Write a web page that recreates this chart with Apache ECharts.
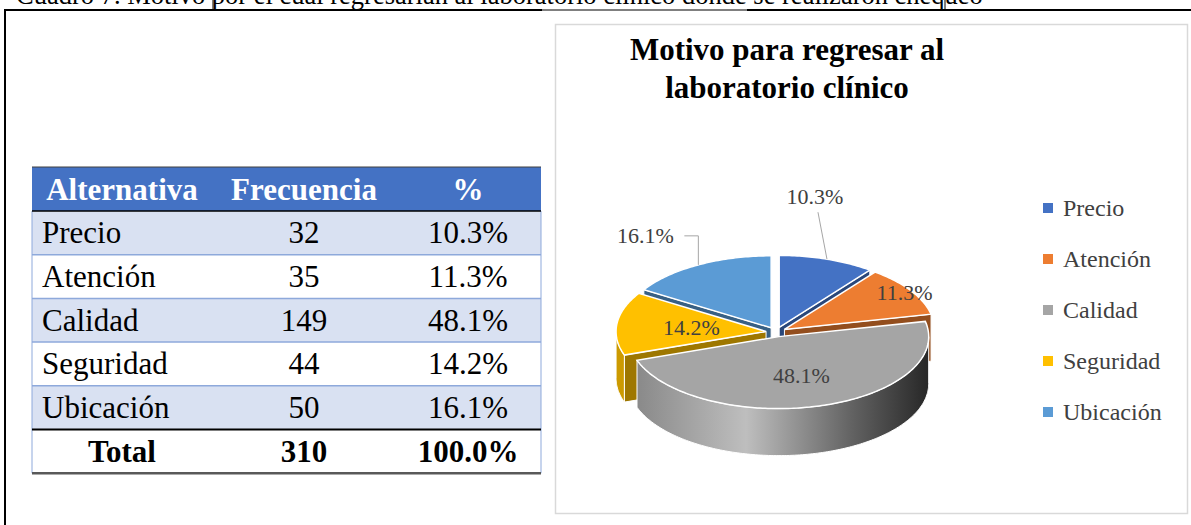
<!DOCTYPE html>
<html>
<head>
<meta charset="utf-8">
<script src="https://cdn.jsdelivr.net/npm/echarts@6/dist/echarts.min.js"></script>
<style>
  html, body { margin: 0; padding: 0; background: #fff; }
  #main { width: 1191px; height: 525px; }
</style>
</head>
<body>
<div id="main"></div>
<script>
// datos del cuadro
var categories = ['Precio', 'Atención', 'Calidad', 'Seguridad', 'Ubicación'];
var frequencies = [32, 35, 149, 44, 50];
var percentLabels = ['10.3%', '11.3%', '48.1%', '14.2%', '16.1%'];
var headers = ['Alternativa', 'Frecuencia', '%'];
var totalRow = ['Total', '310', '100.0%'];
var colors = ['#4472C4', '#ED7D31', '#A5A5A5', '#FFC000', '#5B9BD5'];

var serif = '"Liberation Serif", "Times New Roman", serif';
var chart = echarts.init(document.getElementById('main'), null, { renderer: 'svg' });

// geometria del pastel 3D
var cx = 776, cy = 332, rx = 150, ry = 72, thick = 47, explode = 10;
var D = Math.PI / 180;
var total = frequencies.reduce(function (a, b) { return a + b; }, 0);
var starts = [];
var acc = 0;
frequencies.forEach(function (v) { starts.push(acc / total * 360); acc += v; });

// orden de dibujo: de atras hacia adelante
var depthRank = [];
(function () {
  var idx = frequencies.map(function (v, i) { return i; });
  var midCos = frequencies.map(function (v, i) {
    return Math.cos((starts[i] + v / total * 180) * D);
  });
  idx.sort(function (a, b) { return midCos[b] - midCos[a]; });
  idx.forEach(function (k, r) { depthRank[k] = r; });
})();

// posicion de etiquetas (estilo)
var labelPlace = [
  { leader: [[0, 0], [-9, -47]], text: [-12, -63] },
  { f: 0.95 },
  { f: 0.56 },
  { f: 0.5 },
  { leader: [[0, 0], [0, -29], [-14, -29]], text: [-53, -29] }
];

function shade(hex, k) {
  var n = parseInt(hex.slice(1), 16);
  var c = [(n >> 16) & 255, (n >> 8) & 255, n & 255].map(function (x) {
    return Math.max(0, Math.min(255, Math.round(x * k)));
  });
  return 'rgb(' + c.join(',') + ')';
}

function wallFill(col) {
  return new echarts.graphic.LinearGradient(cx - rx, 0, cx + rx, 0, [
    { offset: 0, color: shade(col, 0.8) },
    { offset: 0.4, color: shade(col, 1.15) },
    { offset: 0.75, color: shade(col, 0.6) },
    { offset: 1, color: shade(col, 0.25) }
  ], true);
}

function renderSlice(params, api) {
  var i = params.dataIndex;
  var v = api.value(0);
  var a0 = starts[i], a1 = a0 + v / total * 360;
  var mid = (a0 + a1) / 2 * D;
  var ox = explode * Math.sin(mid), oy = -explode * ry / rx * Math.cos(mid);
  function p(deg, f, dz) {
    return [cx + ox + rx * f * Math.sin(deg * D), cy + oy - ry * f * Math.cos(deg * D) + (dz || 0)];
  }
  function arc(b0, b1, dz) {
    var pts = [], n = Math.max(2, Math.ceil(b1 - b0));
    for (var k = 0; k <= n; k++) pts.push(p(b0 + (b1 - b0) * k / n, 1, dz));
    return pts;
  }
  var z = depthRank[i] * 10;
  var col = colors[i];
  var kids = [];
  // caras de corte visibles
  [[a0, Math.sin(a0 * D) < -1e-6], [a1, Math.sin(a1 * D) > 1e-6]].forEach(function (e) {
    if (!e[1]) return;
    kids.push({
      type: 'polygon', z2: z + 1,
      shape: { points: [p(e[0], 0), p(e[0], 1), p(e[0], 1, thick), p(e[0], 0, thick)] },
      style: { fill: shade(col, 0.62), stroke: '#fff', lineWidth: 1 }
    });
  });
  // pared exterior
  var w0 = Math.max(a0, 90), w1 = Math.min(a1, 270);
  if (w1 > w0) {
    kids.push({
      type: 'polygon', z2: z + 2,
      shape: { points: arc(w0, w1, 0).concat(arc(w0, w1, thick).reverse()) },
      style: { fill: wallFill(col), stroke: '#fff', lineWidth: 1 }
    });
  }
  // cara superior
  kids.push({
    type: 'polygon', z2: z + 3,
    shape: { points: [p(a0, 0)].concat(arc(a0, a1, 0)) },
    style: { fill: col, stroke: '#fff', lineWidth: 1.5 }
  });
  // etiqueta
  var lp = labelPlace[i], tx, ty;
  if (lp.leader) {
    var edge = p((a0 + a1) / 2, 1);
    kids.push({
      type: 'polyline', z2: 200,
      shape: { points: lp.leader.map(function (d) { return [edge[0] + d[0], edge[1] + d[1]]; }) },
      style: { stroke: '#A6A6A6', lineWidth: 1, fill: null }
    });
    tx = edge[0] + lp.text[0]; ty = edge[1] + lp.text[1];
  } else {
    var q = p((a0 + a1) / 2, lp.f);
    tx = q[0]; ty = q[1];
  }
  kids.push({
    type: 'text', z2: 201,
    style: {
      text: percentLabels[i], x: tx, y: ty, font: '22px ' + serif, fill: '#404040',
      align: 'center', verticalAlign: 'middle', textAlign: 'center', textVerticalAlign: 'middle'
    }
  });
  return { type: 'group', children: kids };
}

// tabla
var tLeft = 32, tRight = 541, tTop = 167, headH = 44, rowH = 43.7;
var colX = [122, 304, 468];
var els = [];
function txt(s, x, y, font, fill, align) {
  els.push({
    type: 'text', z: 10,
    style: {
      text: s, x: x, y: y, font: font, fill: fill,
      align: align || 'center', verticalAlign: 'middle',
      textAlign: align || 'center', textVerticalAlign: 'middle'
    }
  });
}
function hline(x1, x2, y, c, w) {
  els.push({ type: 'line', z: 11, shape: { x1: x1, y1: y, x2: x2, y2: y }, style: { stroke: c, lineWidth: w } });
}
function vline(x, y1, y2, c, w) {
  els.push({ type: 'line', z: 11, shape: { x1: x, y1: y1, x2: x, y2: y2 }, style: { stroke: c, lineWidth: w } });
}

// marco y leyenda del cuadro
txt('Cuadro 7. Motivo por el cual regresarían al laboratorio clínico donde se realizaron chequeo',
  16, -5.5, '26.5px ' + serif, '#000', 'left');
hline(4, 542, 10, '#000', 2);
hline(542, 747, 10, '#000', 1);
hline(747, 1191, 10, '#000', 2);
vline(5, 9, 525, '#000', 2);
vline(213, 0, 10, '#000', 1);
vline(945, 0, 10, '#000', 1);

// recuadro del grafico
els.push({
  type: 'rect', z: 1,
  shape: { x: 555.5, y: 24.5, width: 632, height: 489 },
  style: { fill: '#fff', stroke: '#D9D9D9', lineWidth: 1.5 }
});
els.push({
  type: 'text', z: 10,
  style: {
    text: 'Motivo para regresar al\nlaboratorio clínico', x: 787, y: 30,
    font: 'bold 31px ' + serif, fill: '#000', lineHeight: 38,
    align: 'center', verticalAlign: 'top', textAlign: 'center', textVerticalAlign: 'top'
  }
});

// encabezado
els.push({ type: 'rect', z: 5, shape: { x: tLeft, y: tTop, width: tRight - tLeft, height: headH }, style: { fill: '#4472C4' } });
headers.forEach(function (h, c) {
  txt(h, colX[c], tTop + headH / 2, 'bold 31px ' + serif, '#fff');
});
var bodyTop = tTop + headH;
categories.forEach(function (name, r) {
  var y0 = bodyTop + r * rowH;
  els.push({ type: 'rect', z: 5, shape: { x: tLeft, y: y0, width: tRight - tLeft, height: rowH }, style: { fill: r % 2 === 0 ? '#D9E1F2' : '#fff' } });
  txt(name, 42, y0 + rowH / 2, '31px ' + serif, '#000', 'left');
  txt(String(frequencies[r]), colX[1], y0 + rowH / 2, '31px ' + serif, '#000');
  txt(percentLabels[r], colX[2], y0 + rowH / 2, '31px ' + serif, '#000');
  if (r > 0) hline(tLeft, tRight, y0, '#8EA9DB', 1.5);
});
var totTop = bodyTop + categories.length * rowH;
totalRow.forEach(function (s, c) {
  txt(s, colX[c], totTop + rowH / 2, 'bold 31px ' + serif, '#000');
});
var tBottom = totTop + rowH;
vline(tLeft, bodyTop, tBottom, '#8EA9DB', 1);
vline(tRight, bodyTop, tBottom, '#8EA9DB', 1);
hline(tLeft, tRight, tTop, '#404040', 1);
hline(tLeft, tRight, bodyTop, '#000', 1.5);
hline(tLeft, tRight, totTop, '#000', 2);
hline(tLeft, tRight, tBottom, '#595959', 2.5);

var option = {
  animation: false,
  backgroundColor: '#fff',
  color: colors,
  legend: {
    orient: 'vertical',
    left: 1043,
    top: 196,
    padding: 0,
    itemWidth: 10,
    itemHeight: 10,
    itemGap: 27,
    icon: 'rect',
    selectedMode: false,
    data: categories,
    textStyle: { fontFamily: serif, fontSize: 24, color: '#404040', padding: [0, 0, 0, 5] }
  },
  graphic: { elements: els },
  series: [
    {
      // solo para la leyenda
      type: 'pie',
      radius: [0, 0],
      center: [cx, cy],
      silent: true,
      label: { show: false },
      labelLine: { show: false },
      itemStyle: { borderWidth: 0 },
      data: categories.map(function (n, i) { return { name: n, value: frequencies[i] }; })
    },
    {
      type: 'custom',
      name: 'pastel3d',
      coordinateSystem: 'none',
      z: 3,
      renderItem: renderSlice,
      data: frequencies
    }
  ]
};
chart.setOption(option);
</script>
</body>
</html>
